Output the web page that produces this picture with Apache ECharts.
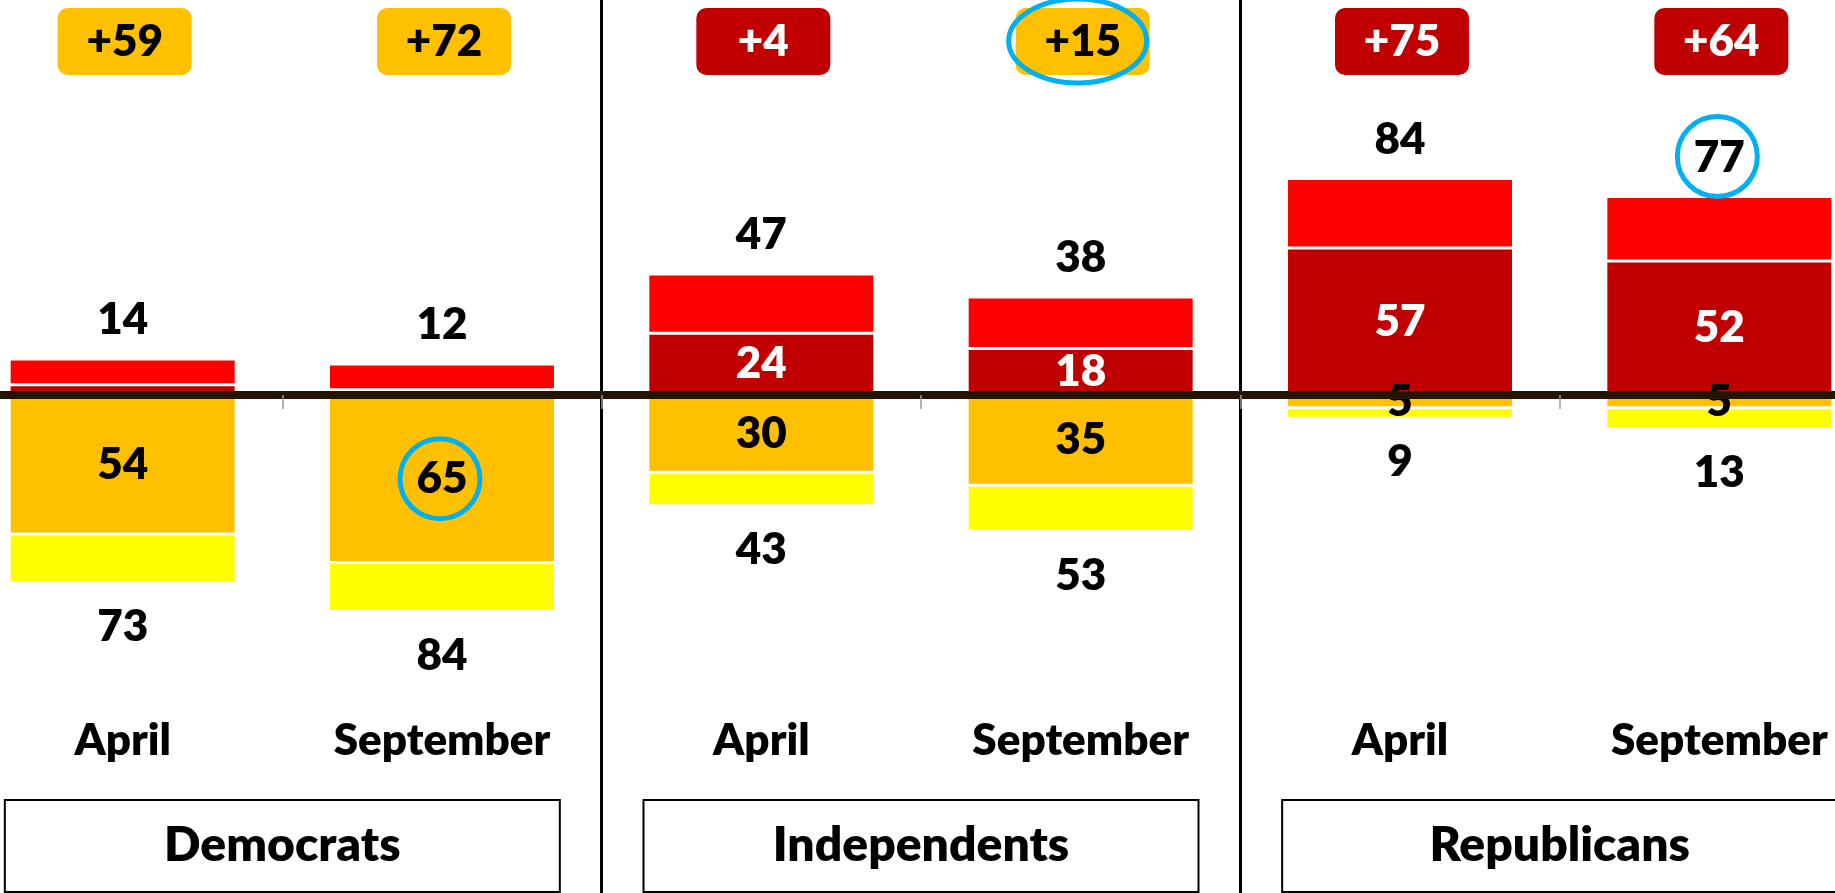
<!DOCTYPE html>
<html>
<head>
<meta charset="utf-8">
<script src="https://cdn.jsdelivr.net/npm/echarts@6/dist/echarts.min.js"></script>
<style>
  html, body { margin: 0; padding: 0; background: #fff; }
  #chart { width: 1835px; height: 893px; }
</style>
</head>
<body>
<div id="chart"></div>
<script>
// categories
const months = ['April', 'September', 'April', 'September', 'April', 'September'];
const parties = ['Democrats', 'Independents', 'Republicans'];

// above the line (red side)
const topTotal = [14, 12, 47, 38, 84, 77];
const topStrong = [4, 2, 24, 18, 57, 52];

// below the line (orange / yellow side)
const bottomTotal = [73, 84, 43, 53, 9, 13];
const bottomMain = [54, 65, 30, 35, 5, 5];

// blue rings drawn over the chart
const circled = [
  { at: 'badge', i: 3 },
  { at: 'bottomMain', i: 1 },
  { at: 'topTotal', i: 5 }
];

const DARK_RED = '#C00000';
const RED = '#FF0000';
const ORANGE = '#FFC000';
const YELLOW = '#FFFF00';
const RING = '#00B0F0';
const FONT = 'Lato';
const FS = 44;
const WEIGHT = 800;

const topRest = topTotal.map((t, i) => t - topStrong[i]);
const bottomRest = bottomTotal.map((t, i) => t - bottomMain[i]);
const gap = bottomTotal.map((b, i) => b - topTotal[i]);

const chart = echarts.init(document.getElementById('chart'));

const txt = { fontFamily: FONT, fontWeight: WEIGHT, fontSize: FS };

chart.setOption({
  animation: false,
  grid: { left: -37, right: -44, top: 0, bottom: 0, containLabel: false, outerBoundsMode: 'none' },
  xAxis: [
    {
      type: 'category',
      data: months,
      z: 10,
      axisLine: { onZero: true, lineStyle: { color: '#231405', width: 8 } },
      axisTick: { show: true, interval: 0, length: 14, lineStyle: { color: '#9a9a9a', width: 1.5 } },
      axisLabel: { show: false },
      splitLine: { show: false }
    },
    {
      type: 'category',
      data: months,
      position: 'bottom',
      offset: -152,
      axisLine: { show: false },
      axisTick: { show: false },
      axisLabel: Object.assign({ interval: 0, margin: 0, verticalAlign: 'middle', color: '#000' }, txt)
    },
    {
      type: 'category',
      data: parties,
      position: 'bottom',
      offset: -47,
      axisLine: { show: false },
      axisTick: { show: false },
      splitLine: { show: true, interval: 0, lineStyle: { color: '#000', width: 3 } },
      axisLabel: Object.assign({}, txt, {
        interval: 0, margin: 0, verticalAlign: 'middle', align: 'center', color: '#000',
        fontSize: 48, width: 553, height: 90, lineHeight: 94,
        borderColor: '#000', borderWidth: 2, backgroundColor: '#fff'
      })
    }
  ],
  yAxis: { type: 'value', min: -193.3, max: 153.3, show: false },
  series: [
    {
      name: 'topStrong', type: 'bar', stack: 'all', barWidth: 227,
      data: topStrong,
      itemStyle: { color: DARK_RED, borderColor: '#fff', borderWidth: 1.5 },
      label: Object.assign({
        show: true, position: 'inside', color: '#fff',
        formatter: p => (p.value >= 10 ? p.value : '')
      }, txt)
    },
    {
      name: 'topRest', type: 'bar', stack: 'all', barWidth: 227,
      data: topRest,
      itemStyle: { color: RED, borderColor: '#fff', borderWidth: 1.5 },
      label: Object.assign({
        show: true, position: 'top', distance: 17, color: '#000',
        formatter: p => topTotal[p.dataIndex]
      }, txt)
    },
    {
      name: 'bottomMain', type: 'bar', stack: 'all', barWidth: 227,
      data: bottomMain.map(v => -v),
      itemStyle: { color: ORANGE, borderColor: '#fff', borderWidth: 1.5 },
      label: Object.assign({
        show: true, position: 'inside', color: '#000',
        formatter: p => bottomMain[p.dataIndex]
      }, txt)
    },
    {
      name: 'bottomRest', type: 'bar', stack: 'all', barWidth: 227,
      data: bottomRest.map(v => -v),
      itemStyle: { color: YELLOW, borderColor: '#fff', borderWidth: 1.5 },
      label: Object.assign({
        show: true, position: 'bottom', distance: 22, color: '#000',
        formatter: p => bottomTotal[p.dataIndex]
      }, txt)
    },
    {
      // net gap badges along the top
      name: 'gap', type: 'custom', z: 5,
      data: gap.map((g, i) => [i, g]),
      encode: { x: 0, y: 1 },
      renderItem: function (params, api) {
        const g = api.value(1);
        const x = api.coord([api.value(0), 0])[0];
        const pos = g > 0;
        return {
          type: 'group',
          children: [
            { type: 'rect', shape: { x: x - 65, y: 8, width: 134, height: 67, r: 10 },
              style: { fill: pos ? ORANGE : DARK_RED } },
            { type: 'text', x: x + 2, y: 42,
              style: { text: '+' + Math.abs(g), fill: pos ? '#000' : '#fff',
                font: WEIGHT + ' ' + FS + 'px ' + FONT,
                align: 'center', verticalAlign: 'middle',
                textAlign: 'center', textVerticalAlign: 'middle' } }
          ]
        };
      }
    },
    {
      // highlight rings
      name: 'rings', type: 'custom', z: 20, clip: false,
      data: circled.map(c => [c.i, 0]),
      encode: { x: 0, y: 1 },
      renderItem: function (params, api) {
        const c = circled[params.dataIndex];
        const x = api.coord([c.i, 0])[0];
        const style = { fill: 'none', stroke: RING, lineWidth: 5 };
        if (c.at === 'badge') {
          return { type: 'ellipse', shape: { cx: x - 3, cy: 41, rx: 69, ry: 42 }, style: style };
        }
        let y;
        if (c.at === 'topTotal') {
          y = api.coord([c.i, topTotal[c.i]])[1] - 40;
        } else {
          y = api.coord([c.i, -bottomMain[c.i] / 2])[1];
        }
        return { type: 'circle', shape: { cx: x - 2, cy: y, r: 40 }, style: style };
      }
    }
  ]
});
</script>
</body>
</html>
